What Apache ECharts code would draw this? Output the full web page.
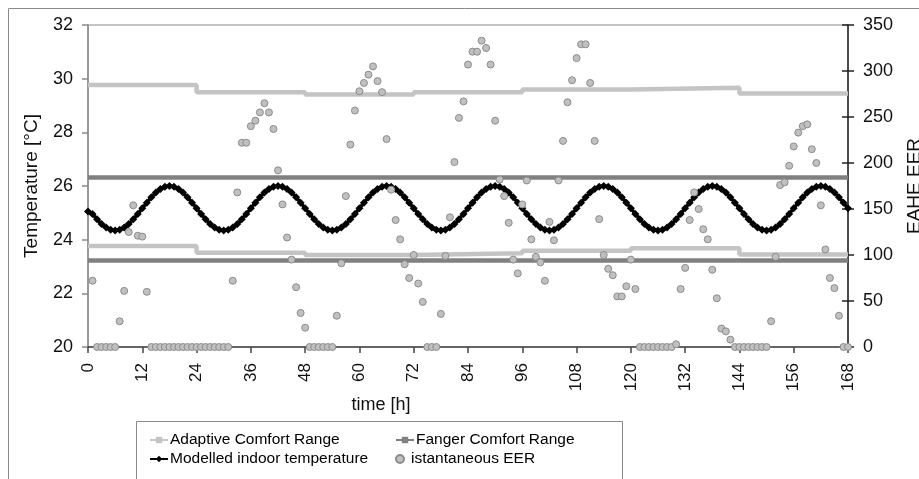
<!DOCTYPE html>
<html>
<head>
<meta charset="utf-8">
<script src="https://cdn.jsdelivr.net/npm/echarts@6/dist/echarts.min.js"></script>
<style>
html,body{margin:0;padding:0;background:#fff;}
#c{width:919px;height:479px;}
</style>
</head>
<body>
<div id="c"></div>
<script>
// ---- data ----
const xTicks = [0,12,24,36,48,60,72,84,96,108,120,132,144,156,168];
const leftTicks = [20,22,24,26,28,30,32];
const rightTicks = [0,50,100,150,200,250,300,350];

// Adaptive comfort range: one value per day (day d spans hours dayStart[d]..dayStart[d]+24)
const adaptiveDayStart = [0,24,48,72,96,120,144];
const adaptiveUpper = [29.76,29.49,29.41,29.49,29.60,29.66,29.45];
const adaptiveLower = [23.76,23.51,23.43,23.49,23.59,23.68,23.45];

// Fanger comfort range
const fangerHours = [0,168];
const fangerUpper = [26.32,26.32];
const fangerLower = [23.22,23.22];

// Modelled indoor temperature, hourly from t=0 to t=168
const indoorTemp = [
25.05,24.96,24.76,24.58,24.45,24.37,24.34,24.37,24.45,24.58,24.76,24.96,25.17,25.38,25.58,25.76,25.89,25.97,26.00,25.97,25.89,25.76,25.58,25.38,
25.17,24.96,24.76,24.58,24.45,24.37,24.34,24.37,24.45,24.58,24.76,24.96,25.17,25.38,25.58,25.76,25.89,25.97,26.00,25.97,25.89,25.76,25.58,25.38,
25.17,24.96,24.76,24.58,24.45,24.37,24.34,24.37,24.45,24.58,24.76,24.96,25.17,25.38,25.58,25.76,25.89,25.97,26.00,25.97,25.89,25.76,25.58,25.38,
25.17,24.96,24.76,24.58,24.45,24.37,24.34,24.37,24.45,24.58,24.76,24.96,25.17,25.38,25.58,25.76,25.89,25.97,26.00,25.97,25.89,25.76,25.58,25.38,
25.17,24.96,24.76,24.58,24.45,24.37,24.34,24.37,24.45,24.58,24.76,24.96,25.17,25.38,25.58,25.76,25.89,25.97,26.00,25.97,25.89,25.76,25.58,25.38,
25.17,24.96,24.76,24.58,24.45,24.37,24.34,24.37,24.45,24.58,24.76,24.96,25.17,25.38,25.58,25.76,25.89,25.97,26.00,25.97,25.89,25.76,25.58,25.38,
25.17,24.96,24.76,24.58,24.45,24.37,24.34,24.37,24.45,24.58,24.76,24.96,25.17,25.38,25.58,25.76,25.89,25.97,26.00,25.97,25.89,25.76,25.58,25.38,
25.17
];

// Instantaneous EAHE EER, hourly from t=1 to t=168
const eerStartHour = 1;
const eer = [
72,0,0,0,0,0,28,61,125,154,121,120,60,0,0,0,0,0,0,0,0,0,0,0,
0,0,0,0,0,0,0,72,168,222,222,240,246,255,265,255,237,192,155,119,95,65,37,21,
0,0,0,0,0,0,34,91,164,220,257,278,287,296,305,289,277,226,171,138,117,90,75,100,
69,49,0,0,0,36,99,141,201,249,267,307,321,321,333,325,307,246,182,164,135,95,80,155,
181,117,98,92,72,136,116,181,224,266,290,314,329,329,287,224,139,100,85,78,55,55,66,95,
63,0,0,0,0,0,0,0,0,3,63,86,138,168,150,128,117,84,53,20,17,8,0,0,
0,0,0,0,0,0,28,98,176,179,197,218,233,240,242,215,200,154,106,75,64,34,0,0
];

// ---- build ----
const DAY = 24;
const stepData = (starts, vals) => {
  const out = [];
  starts.forEach((s,i)=>{ out.push([s, vals[i]]); out.push([s + DAY, vals[i]]); });
  return out;
};
const pairs = (xs, ys) => xs.map((x,i)=>[x, ys[i]]);
const tempData = indoorTemp.map((v,i)=>[i, v]);
const eerData = eer.map((v,i)=>[i + eerStartHour, v]);

const FONT = 'Liberation Sans, Arial, sans-serif';
const chart = echarts.init(document.getElementById('c'), null, {renderer:'canvas'});

const legendBase = {
  orient:'horizontal', itemWidth:18, itemHeight:8, itemGap:0, padding:0,
  textStyle:{fontFamily:FONT, fontSize:15.5, color:'#000', padding:[0,0,0,-3]},
  selectedMode:false
};

chart.setOption({
  animation:false,
  backgroundColor:'#fff',
  grid:{left:88, right:71, top:25, bottom:132, show:true, borderColor:'#8a8a8a', borderWidth:1, backgroundColor:'transparent'},
  xAxis:{
    type:'value', min:0, max:168, interval:12,
    axisLine:{show:true, onZero:false, lineStyle:{color:'#444', width:1.5}},
    axisTick:{show:true, inside:false, length:6, lineStyle:{color:'#444', width:1.5}},
    axisLabel:{rotate:90, margin:16, fontFamily:FONT, fontSize:17, color:'#111',
      formatter:(v)=> xTicks.includes(v) ? String(v) : ''},
    splitLine:{show:false}
  },
  yAxis:[
    {type:'value', min:20, max:32, interval:2, position:'left',
     axisLine:{show:true, lineStyle:{color:'#8a8a8a', width:1.5}},
     axisTick:{show:true, inside:false, length:6, lineStyle:{color:'#8a8a8a', width:1.5}},
     axisLabel:{margin:15, fontFamily:FONT, fontSize:18, color:'#111',
       formatter:(v)=> leftTicks.includes(v) ? String(v) : ''},
     splitLine:{show:false}},
    {type:'value', min:0, max:350, interval:50, position:'right',
     axisLine:{show:true, lineStyle:{color:'#222', width:1.5}},
     axisTick:{show:true, inside:false, length:6, lineStyle:{color:'#222', width:1.5}},
     axisLabel:{margin:15, fontFamily:FONT, fontSize:18, color:'#111',
       formatter:(v)=> rightTicks.includes(v) ? String(v) : ''},
     splitLine:{show:false}},
    {type:'value', min:0, max:350, interval:50, position:'right',
     axisLine:{show:false},
     axisTick:{show:true, inside:true, length:6, lineStyle:{color:'#222', width:1.5}},
     axisLabel:{show:false},
     splitLine:{show:false}}
  ],
  legend:[
    Object.assign({}, legendBase, {left:149, top:432, data:['Adaptive Comfort Range']}),
    Object.assign({}, legendBase, {left:395, top:432, data:['Fanger Comfort Range']}),
    Object.assign({}, legendBase, {left:149, top:451, data:['Modelled indoor temperature']}),
    Object.assign({}, legendBase, {left:395, top:451, data:['istantaneous EER']})
  ],
  graphic:[
    {type:'rect', silent:true, z:-10, shape:{x:8.5, y:8.5, width:1000, height:1000},
     style:{fill:'none', stroke:'#8a8a8a', lineWidth:1}},
    {type:'rect', silent:true, z:-5, shape:{x:136.5, y:421.5, width:486, height:100},
     style:{fill:'#fff', stroke:'#8a8a8a', lineWidth:1}},
    {type:'text', silent:true, x:381, y:405, style:{text:'time [h]', font:'18px Liberation Sans, Arial, sans-serif', fill:'#111', textAlign:'center', textVerticalAlign:'middle'}},
    {type:'text', silent:true, x:32, y:186, rotation:Math.PI/2, style:{text:'Temperature [°C]', font:'19px Liberation Sans, Arial, sans-serif', fill:'#111', textAlign:'center', textVerticalAlign:'middle'}},
    {type:'text', silent:true, x:915, y:186, rotation:Math.PI/2, style:{text:'EAHE EER', font:'19px Liberation Sans, Arial, sans-serif', fill:'#111', textAlign:'center', textVerticalAlign:'middle'}}
  ],
  series:[
    {name:'Adaptive Comfort Range', type:'line', yAxisIndex:0, data:stepData(adaptiveDayStart, adaptiveUpper),
     symbol:'rect', symbolSize:5, showSymbol:false, lineStyle:{color:'#c4c4c4', width:4.5}, itemStyle:{color:'#c4c4c4'}, z:2},
    {name:'Adaptive Comfort Range', type:'line', yAxisIndex:0, data:stepData(adaptiveDayStart, adaptiveLower),
     symbol:'rect', symbolSize:5, showSymbol:false, lineStyle:{color:'#c4c4c4', width:4.5}, itemStyle:{color:'#c4c4c4'}, z:2},
    {name:'Fanger Comfort Range', type:'line', yAxisIndex:0, data:pairs(fangerHours, fangerUpper),
     symbol:'rect', symbolSize:5, showSymbol:false, lineStyle:{color:'#808080', width:4.5}, itemStyle:{color:'#808080'}, z:3},
    {name:'Fanger Comfort Range', type:'line', yAxisIndex:0, data:pairs(fangerHours, fangerLower),
     symbol:'rect', symbolSize:5, showSymbol:false, lineStyle:{color:'#808080', width:4.5}, itemStyle:{color:'#808080'}, z:3},
    {name:'Modelled indoor temperature', type:'line', yAxisIndex:0, data:tempData,
     symbol:'diamond', symbolSize:8, showSymbol:true, showAllSymbol:true,
     lineStyle:{color:'#000', width:3.5}, itemStyle:{color:'#000'}, z:4},
    {name:'istantaneous EER', type:'scatter', yAxisIndex:1, data:eerData,
     symbol:'circle', symbolSize:7, itemStyle:{color:'#c0c0c0', borderColor:'#8c8c8c', borderWidth:1, opacity:1}, z:5}
  ]
});
</script>
</body>
</html>
